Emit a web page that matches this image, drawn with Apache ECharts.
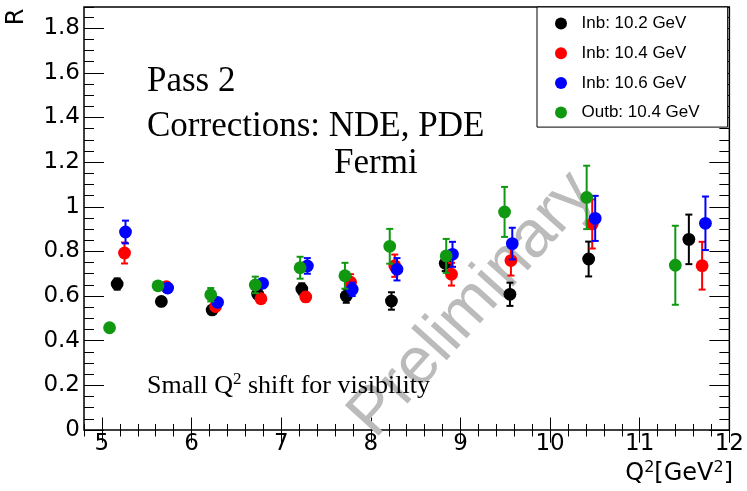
<!DOCTYPE html>
<html>
<head>
<meta charset="utf-8">
<script src="https://cdn.jsdelivr.net/npm/echarts@6/dist/echarts.min.js"></script>
<style>
html,body{margin:0;padding:0;background:#fff;}
#chart{width:747px;height:491px;}
</style>
</head>
<body>
<div id="chart"></div>
<script>
// ---- data ----
const seriesNames = ['Inb: 10.2 GeV', 'Inb: 10.4 GeV', 'Inb: 10.6 GeV', 'Outb: 10.4 GeV'];
const seriesColors = ['#000000', '#ff0000', '#0000ff', '#109910'];

const inb102_q2  = [5.17, 5.663, 6.23, 6.737, 7.23, 7.726, 8.23, 8.83, 9.552, 10.43, 11.548];
const inb102_R   = [0.654, 0.576, 0.538, 0.609, 0.632, 0.600, 0.578, 0.747, 0.608, 0.766, 0.854];
const inb102_err = [0.025, 0.015, 0.015, 0.02, 0.025, 0.03, 0.039, 0.035, 0.052, 0.078, 0.111];

const inb104_q2  = [5.252, 5.719, 6.267, 6.774, 7.274, 7.774, 8.267, 8.9, 9.563, 10.47, 11.696];
const inb104_R   = [0.793, 0.642, 0.553, 0.588, 0.596, 0.662, 0.736, 0.698, 0.759, 0.923, 0.736];
const inb104_err = [0.047, 0.015, 0.015, 0.015, 0.02, 0.036, 0.05, 0.051, 0.067, 0.11, 0.107];

const inb106_q2  = [5.263, 5.733, 6.29, 6.792, 7.292, 7.792, 8.292, 8.911, 9.578, 10.503, 11.733];
const inb106_R   = [0.887, 0.636, 0.572, 0.657, 0.735, 0.630, 0.72, 0.787, 0.835, 0.948, 0.926];
const inb106_err = [0.051, 0.015, 0.015, 0.02, 0.035, 0.03, 0.05, 0.056, 0.071, 0.101, 0.12];

const outb104_q2  = [5.085, 5.626, 6.214, 6.711, 7.211, 7.711, 8.211, 8.841, 9.492, 10.408, 11.397];
const outb104_R   = [0.458, 0.646, 0.606, 0.650, 0.727, 0.691, 0.823, 0.78, 0.977, 1.042, 0.738];
const outb104_err = [0.01, 0.015, 0.03, 0.037, 0.049, 0.058, 0.078, 0.076, 0.112, 0.142, 0.177];

const xTickLabels = [5, 6, 7, 8, 9, 10, 11, 12];
const yTickLabels = [0, 0.2, 0.4, 0.6, 0.8, 1.0, 1.2, 1.4, 1.6, 1.8];

// ---- build ----
const groups = [
  [inb102_q2, inb102_R, inb102_err],
  [inb104_q2, inb104_R, inb104_err],
  [inb106_q2, inb106_R, inb106_err],
  [outb104_q2, outb104_R, outb104_err]
];

const X_MIN = 4.8, X_MAX = 12, Y_MIN = 0, Y_MAX = 1.895;
const FONT = 'Liberation Sans, Arial, sans-serif';
const WIDE = 'DejaVu Sans, sans-serif';
const SERIF = 'Liberation Serif, Times New Roman, serif';

function renderPoint(params, api) {
  const x = api.value(0), y = api.value(1), e = api.value(2);
  const c = api.coord([x, y]);
  const hi = api.coord([x, y + e]);
  const lo = api.coord([x, y - e]);
  const color = api.visual('color');
  const ls = {stroke: color, lineWidth: 2};
  const cap = 3.5;
  return {
    type: 'group',
    children: [
      {type: 'line', shape: {x1: c[0], y1: lo[1], x2: c[0], y2: hi[1]}, style: ls},
      {type: 'line', shape: {x1: c[0] - cap, y1: hi[1], x2: c[0] + cap, y2: hi[1]}, style: ls},
      {type: 'line', shape: {x1: c[0] - cap, y1: lo[1], x2: c[0] + cap, y2: lo[1]}, style: ls},
      {type: 'circle', shape: {cx: c[0], cy: c[1], r: 6.4}, style: {fill: color}}
    ]
  };
}

const series = groups.map((g, i) => ({
  name: seriesNames[i],
  type: 'custom',
  xAxisIndex: 0,
  yAxisIndex: 0,
  z: 10 + i,
  itemStyle: {color: seriesColors[i]},
  renderItem: renderPoint,
  data: g[0].map((q, k) => [q, g[1][k], g[2][k]])
}));

function xAx(pos, custom, len) {
  const a = {
    type: 'value', position: pos, min: X_MIN, max: X_MAX,
    axisLine: {show: false}, splitLine: {show: false},
    axisTick: {show: true, inside: true, length: len, lineStyle: {color: '#000', width: 1}},
    axisLabel: {show: false}
  };
  if (custom) {
    a.axisTick.customValues = xTickLabels;
    if (pos === 'bottom') {
      a.axisLabel = {show: true, customValues: xTickLabels, margin: 3, fontSize: 23, fontFamily: WIDE, color: '#000'};
    }
  } else {
    a.interval = 0.2;
  }
  return a;
}
function yAx(pos, custom, len) {
  const a = {
    type: 'value', position: pos, min: Y_MIN, max: Y_MAX,
    axisLine: {show: false}, splitLine: {show: false},
    axisTick: {show: true, inside: true, length: len, lineStyle: {color: '#000', width: 1}},
    axisLabel: {show: false}
  };
  if (custom) {
    a.axisTick.customValues = yTickLabels;
    if (pos === 'left') {
      a.axisLabel = {show: true, customValues: yTickLabels, margin: 4, fontSize: 23, fontFamily: WIDE, color: '#000',
        formatter: v => String(+(+v).toFixed(1))};
    }
  } else {
    a.interval = 0.05;
  }
  return a;
}

const chart = echarts.init(document.getElementById('chart'), null, {renderer: 'canvas'});
chart.setOption({
  animation: false,
  backgroundColor: '#fff',
  grid: {left: 84, top: 7, right: 15, bottom: 61, show: true, borderColor: '#000', borderWidth: 1.5, backgroundColor: 'transparent'},
  xAxis: [xAx('bottom', false, 6), xAx('bottom', true, 12.5), xAx('top', false, 6.5), xAx('top', true, 12.7)],
  yAxis: [yAx('left', false, 10), yAx('left', true, 20), yAx('right', false, 10), yAx('right', true, 20)],
  legend: {
    orient: 'vertical', left: 537, top: 7,
    itemWidth: 31, itemHeight: 12, itemGap: 12.7,
    padding: [8, 28, 6, 18],
    borderColor: '#000', borderWidth: 1, backgroundColor: '#fff', borderRadius: 0,
    textStyle: {fontFamily: FONT, fontSize: 17, color: '#000', lineHeight: 16},
    data: seriesNames.map(n => ({name: n, icon: 'circle'})),
    z: 20
  },
  graphic: [
    {type: 'text', z: 1, x: 472, y: 305, rotation: 48 * Math.PI / 180,
      style: {text: 'Preliminary', font: '66px ' + FONT, fill: '#bbbbbb', align: 'center', verticalAlign: 'middle'}},
    {type: 'text', z: 5, x: 147, y: 82,
      style: {text: 'Pass 2', font: '35px ' + SERIF, fill: '#000', verticalAlign: 'middle'}},
    {type: 'text', z: 5, x: 147, y: 127,
      style: {text: 'Corrections: NDE, PDE', font: '35px ' + SERIF, fill: '#000', verticalAlign: 'middle'}},
    {type: 'text', z: 5, x: 334, y: 164,
      style: {text: 'Fermi', font: '35px ' + SERIF, fill: '#000', verticalAlign: 'middle'}},
    {type: 'text', z: 5, x: 147, y: 386,
      style: {text: '{a|Small Q}{s|2}{a| shift for visibility}', verticalAlign: 'middle',
        rich: {a: {fontFamily: SERIF, fontSize: 26, lineHeight: 30, fill: '#000', color: '#000'},
               s: {fontFamily: SERIF, fontSize: 17, lineHeight: 17, verticalAlign: 'top', color: '#000'}}}},
    {type: 'text', z: 5, x: 733, y: 474,
      style: {text: '{a|Q}{s|2}{a|[GeV}{s|2}{a|]}', align: 'right', verticalAlign: 'middle',
        rich: {a: {fontFamily: WIDE, fontSize: 24, lineHeight: 28, color: '#000'},
               s: {fontFamily: WIDE, fontSize: 16, lineHeight: 16, verticalAlign: 'top', color: '#000'}}}},
    {type: 'text', z: 5, x: 17, y: 17, rotation: Math.PI / 2,
      style: {text: 'R', font: '24px ' + WIDE, fill: '#000', align: 'center', verticalAlign: 'middle'}}
  ],
  series: series
});
</script>
</body>
</html>
